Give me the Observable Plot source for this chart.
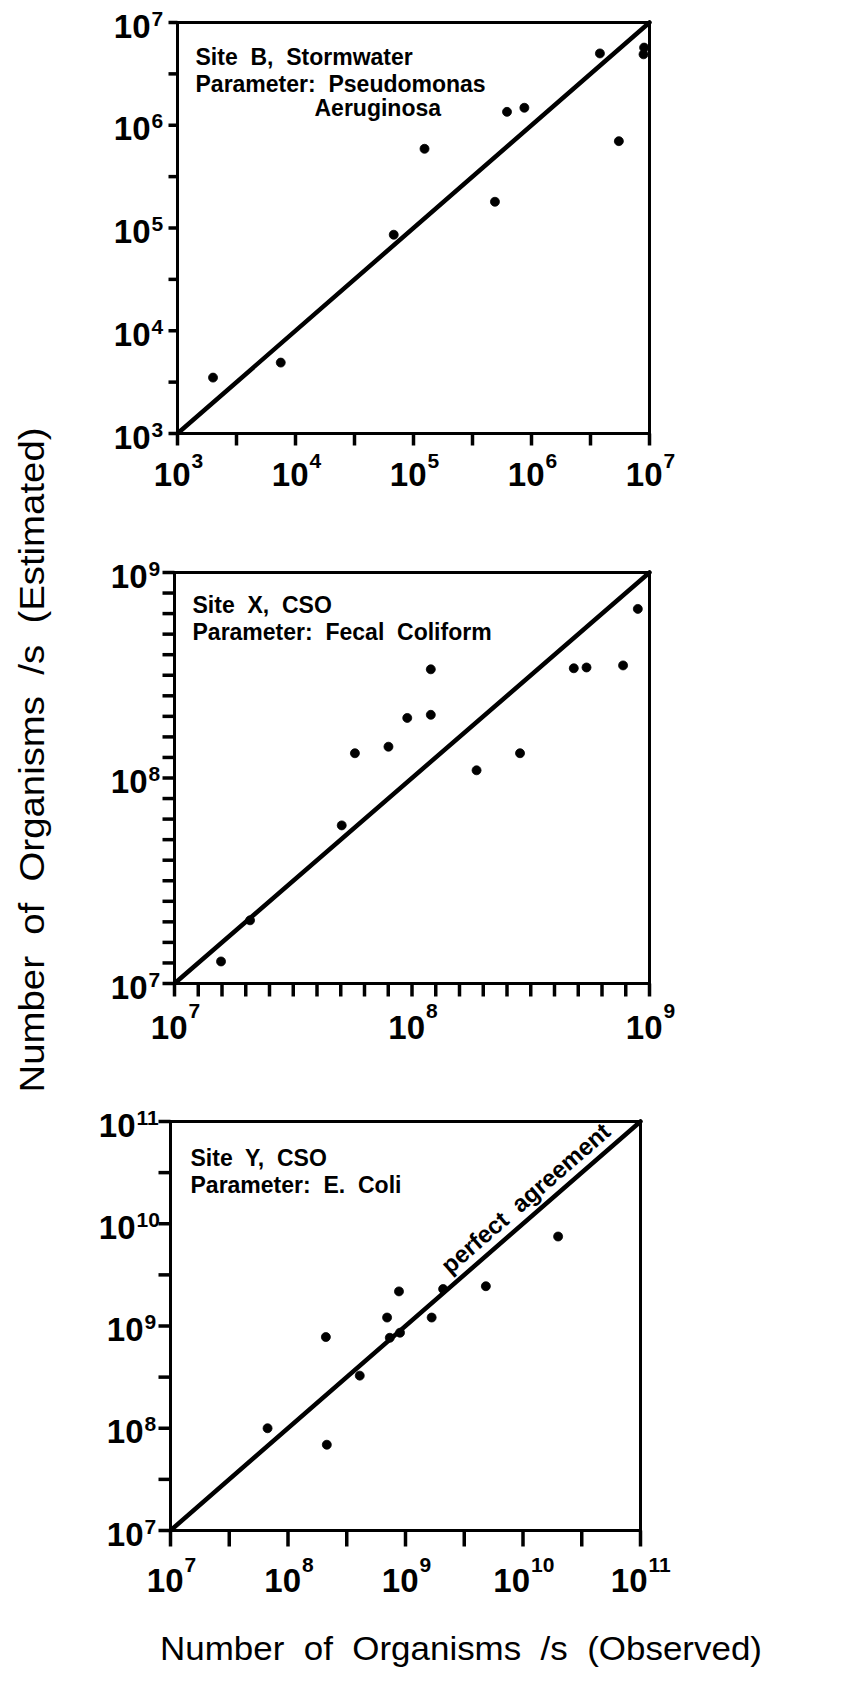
<!DOCTYPE html>
<html>
<head>
<meta charset="utf-8">
<script src="https://cdn.jsdelivr.net/npm/d3@7"></script>
<script src="https://cdn.jsdelivr.net/npm/@observablehq/plot@0.6"></script>
<style>
  body { margin: 0; background: #fff; }
  #wrap { position: relative; width: 864px; height: 1683px; overflow: hidden; background: #fff;
          font-family: "Liberation Sans", Arial, Helvetica, sans-serif; }
  #wrap text { white-space: pre; }
  .panel { position: absolute; left: 0; }
  #titles { position: absolute; left: 0; top: 0; }
</style>
</head>
<body>
<div id="wrap"></div>
<script>
// ---------- Data ----------
// Site B, Stormwater — Pseudomonas Aeruginosa
const siteBObserved  = [2.0e3, 7.5e3, 6.8e4, 1.24e5, 4.9e5, 6.2e5, 8.7e5, 3.8e6, 5.5e6, 8.9e6, 9.0e6];
const siteBEstimated = [3.5e3, 4.9e3, 8.6e4, 5.9e5, 1.8e5, 1.35e6, 1.48e6, 5.0e6, 7.0e5, 4.9e6, 5.7e6];

// Site X, CSO — Fecal Coliform
const siteXObserved  = [1.57e7, 2.08e7, 5.06e7, 5.75e7, 7.96e7, 9.55e7, 1.2e8, 1.2e8, 1.87e8, 2.85e8, 4.8e8, 5.43e8, 7.74e8, 8.93e8];
const siteXEstimated = [1.28e7, 2.03e7, 5.88e7, 1.32e8, 1.42e8, 1.96e8, 2.03e8, 3.38e8, 1.09e8, 1.32e8, 3.42e8, 3.45e8, 3.53e8, 6.65e8];

// Site Y, CSO — E. Coli
const siteYObserved  = [6.7e7, 2.1e8, 2.14e8, 4.08e8, 6.97e8, 7.35e8, 8.8e8, 8.98e8, 1.67e9, 2.09e9, 4.83e9, 1.99e10];
const siteYEstimated = [1.0e8, 7.8e8, 6.9e7, 3.27e8, 1.21e9, 7.67e8, 2.18e9, 8.6e8, 1.21e9, 2.3e9, 2.45e9, 7.5e9];

// Axis domains (log10 exponents) and tick exponents
const domainB = [3, 7];
const domainX = [7, 9];
const domainY = [7, 11];
const tickExpB = [3, 3.5, 4, 4.5, 5, 5.5, 6, 6.5, 7];
const tickExpX = [7, 7.1, 7.2, 7.3, 7.4, 7.5, 7.6, 7.7, 7.8, 7.9, 8, 8.1, 8.2, 8.3, 8.4, 8.5, 8.6, 8.7, 8.8, 8.9, 9];
const tickExpY = [7, 7.5, 8, 8.5, 9, 9.5, 10, 10.5, 11];
const labelExpB = [3, 4, 5, 6, 7];
const labelExpX = [7, 8, 9];
const labelExpY = [7, 8, 9, 10, 11];

// Panel annotations
const textB = ["Site  B,  Stormwater", "Parameter:  Pseudomonas"];
const textB2 = ["Aeruginosa"];
const textX = ["Site  X,  CSO", "Parameter:  Fecal  Coliform"];
const textY = ["Site  Y,  CSO", "Parameter:  E.  Coli"];
const lineLabel = ["perfect  agreement"];

const xTitle = "Number  of  Organisms  /s  (Observed)";
const yTitle = "Number  of  Organisms  /s  (Estimated)";

// ---------- Drawing ----------
const FONT = "'Liberation Sans', Arial, Helvetica, sans-serif";
const pow = e => Math.pow(10, e);

// tick-mark symbols (short strokes pointing out of the frame)
const leftTick = len => ({draw(ctx) { ctx.moveTo(-len, 0); ctx.lineTo(0, 0); }});
const downTick = len => ({draw(ctx) { ctx.moveTo(0, 0); ctx.lineTo(0, len); }});

function makePanel(cfg) {
  const pts = cfg.obs.map((o, i) => ({obs: o, est: cfg.est[i]}));
  const dom = cfg.domain.map(pow);
  const agreement = [{v: dom[0]}, {v: dom[1]}];
  const ticks = cfg.tickExp.map(e => ({v: pow(e), lo: dom[0]}));
  const labs = cfg.labelExp.map(e => ({v: pow(e), e: String(e)}));
  const labs1 = labs.filter(d => d.e.length === 1);
  const labs2 = labs.filter(d => d.e.length === 2);
  const base = {fontWeight: "bold", fill: "black"};
  const BIG = 33, SUP = 21;

  const yLabels = (arr, shift) => [
    Plot.text(arr, {...base, y: "v", text: () => "10", frameAnchor: "left", textAnchor: "end",
      lineAnchor: "bottom", dx: -cfg.yLabGap - shift, dy: 15, fontSize: BIG}),
    Plot.text(arr, {...base, y: "v", text: "e", frameAnchor: "left", textAnchor: "start",
      lineAnchor: "bottom", dx: -cfg.yLabGap - shift + 1, dy: 3, fontSize: SUP})
  ];
  const xLabels = (arr, off) => [
    Plot.text(arr, {...base, x: "v", text: () => "10", frameAnchor: "bottom", textAnchor: "end",
      lineAnchor: "bottom", dx: off, dy: cfg.xBase, fontSize: BIG}),
    Plot.text(arr, {...base, x: "v", text: "e", frameAnchor: "bottom", textAnchor: "start",
      lineAnchor: "bottom", dx: off + 1, dy: cfg.xSup, fontSize: SUP})
  ];

  const marks = [
    // outward tick marks (left and bottom)
    Plot.dot(ticks, {x: "lo", y: "v", r: 3, symbol: leftTick(cfg.ytick), fill: "none",
      stroke: "black", strokeWidth: 3.5}),
    Plot.dot(ticks, {x: "v", y: "lo", r: 3, symbol: downTick(cfg.xtick), fill: "none",
      stroke: "black", strokeWidth: 3.5}),
    Plot.frame({stroke: "black", strokeWidth: 3}),
    Plot.line(agreement, {x: "v", y: "v", stroke: "black", strokeWidth: 4.5}),
    Plot.dot(pts, {x: "obs", y: "est", r: 4.5, fill: "black", stroke: "black", strokeWidth: 0.8}),
    ...yLabels(labs1, 0),
    ...yLabels(labs2, 8),
    ...xLabels(labs1, 13),
    ...xLabels(labs2, 7),
    // panel annotation
    Plot.text([cfg.text.join("\n")], {...base, frameAnchor: "top-left", textAnchor: "start",
      lineAnchor: "top", dx: cfg.textDx, dy: cfg.textDy, fontSize: 23, lineHeight: 1.17})
  ];
  if (cfg.extra) marks.push(cfg.extra);

  const svg = Plot.plot({
    width: 864,
    height: cfg.height,
    marginLeft: cfg.ml, marginRight: cfg.mr, marginTop: cfg.mt, marginBottom: cfg.mb,
    style: {fontFamily: FONT, background: "transparent", overflow: "visible"},
    x: {type: "log", domain: dom, axis: null},
    y: {type: "log", domain: dom, axis: null},
    marks
  });
  svg.classList.add("panel");
  svg.style.top = cfg.top + "px";
  return svg;
}

const wrap = document.getElementById("wrap");

wrap.appendChild(makePanel({
  obs: siteBObserved, est: siteBEstimated, domain: domainB, tickExp: tickExpB, labelExp: labelExpB,
  top: 0, height: 520, ml: 177, mr: 215, mt: 22, mb: 87, ytick: 9, xtick: 12,
  yLabGap: 27, xBase: 52, xSup: 34, text: textB, textDx: 18, textDy: 23,
  extra: Plot.text(textB2, {fontWeight: "bold", fill: "black", frameAnchor: "top-left", textAnchor: "start",
    lineAnchor: "top", dx: 137, dy: 23 + 2 * 26.9, fontSize: 23})
}));

wrap.appendChild(makePanel({
  obs: siteXObserved, est: siteXEstimated, domain: domainX, tickExp: tickExpX, labelExp: labelExpX,
  top: 520, height: 560, ml: 174, mr: 215, mt: 52, mb: 97, ytick: 12, xtick: 13,
  yLabGap: 27, xBase: 55, xSup: 34, text: textX, textDx: 18, textDy: 21
}));

wrap.appendChild(makePanel({
  obs: siteYObserved, est: siteYEstimated, domain: domainY, tickExp: tickExpY, labelExp: labelExpY,
  top: 1080, height: 603, ml: 170, mr: 224, mt: 41, mb: 153, ytick: 12, xtick: 16,
  yLabGap: 27, xBase: 61, xSup: 41, text: textY, textDx: 20, textDy: 25,
  extra: Plot.text(lineLabel, {
    x: () => pow(domainY[0] + 0.78 * (domainY[1] - domainY[0])),
    y: () => pow(domainY[0] + 0.78 * (domainY[1] - domainY[0])),
    text: d => d, rotate: -41, dx: -6, dy: -7, fontSize: 24, fontWeight: "bold", fill: "black",
    textAnchor: "middle", lineAnchor: "bottom"
  })
}));

// Shared axis titles
const ns = "http://www.w3.org/2000/svg";
const tsvg = document.createElementNS(ns, "svg");
tsvg.setAttribute("id", "titles");
tsvg.setAttribute("width", 864);
tsvg.setAttribute("height", 1683);
tsvg.style.fontFamily = FONT;
function addTitle(str, x, y, rot, anchor, len, size) {
  const t = document.createElementNS(ns, "text");
  t.setAttribute("transform", `translate(${x},${y}) rotate(${rot})`);
  t.setAttribute("text-anchor", anchor);
  t.setAttribute("font-size", size);
  t.setAttribute("textLength", len);
  t.setAttribute("lengthAdjust", "spacingAndGlyphs");
  t.setAttribute("fill", "black");
  t.textContent = str;
  tsvg.appendChild(t);
}
addTitle(xTitle, 160, 1660, 0, "start", 602, 34);
addTitle(yTitle, 44, 760, -90, "middle", 665, 35);
wrap.appendChild(tsvg);
</script>
</body>
</html>
